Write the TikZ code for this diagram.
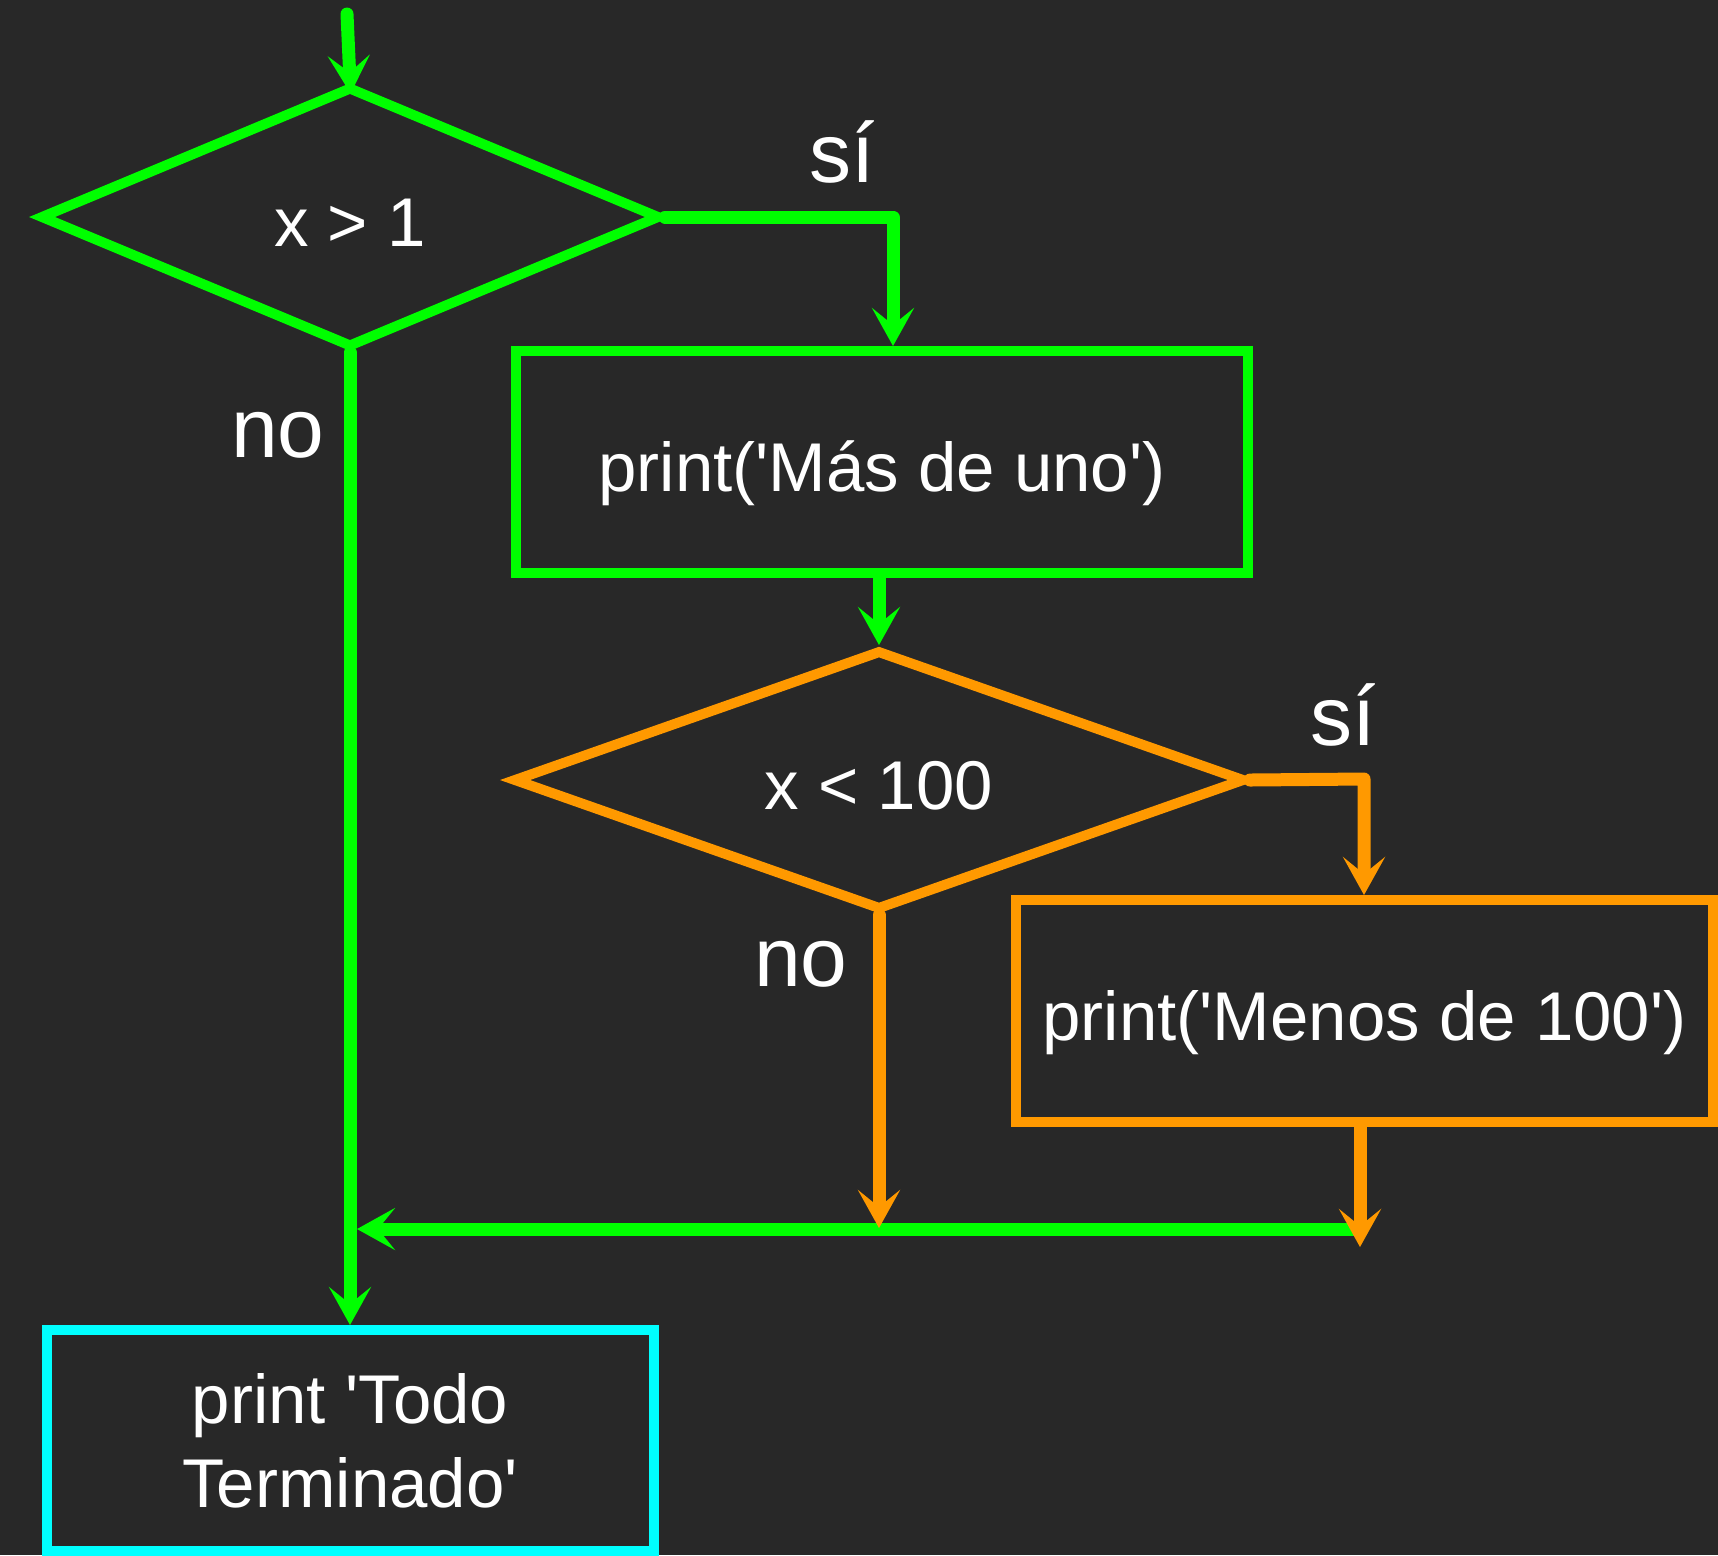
\documentclass[tikz,border=0pt]{standalone}
\usepackage{fontspec}
\setmainfont{Liberation Sans}
\usetikzlibrary{shapes.geometric, arrows.meta, positioning}

\definecolor{fondo}{HTML}{282828}
\definecolor{verde}{HTML}{00FF00}
\definecolor{naranja}{HTML}{FF9900}
\definecolor{cian}{HTML}{00FFFF}
\newcommand{\ap}{\textquotesingle}

\begin{document}
\begin{tikzpicture}[x=0.5pt, y=-0.5pt,
  oneline/.style = {text height=36pt, text depth=7pt},
  decision/.style = {draw, diamond, aspect=2.6, oneline, line width=5pt, inner sep=0pt, text=white, font=\fontsize{34.5}{41}\selectfont},
  process/.style = {draw, rectangle, line width=5pt, inner sep=0pt, text=white, align=center, font=\fontsize{34.5}{42}\selectfont},
  flow/.style = {line width=6.5pt, line cap=round, line join=round, -{Stealth[length=19pt, width=21pt, inset=8.5pt]}},
  answer/.style = {text=white, anchor=base, font=\fontsize{42}{50}\selectfont}]

\fill[fondo] (0,0) rectangle (1718,1555);
\useasboundingbox (0,0) rectangle (1718,1555);

% shapes
\node[decision, draw=verde, minimum width=310pt, minimum height=130.5pt] (d1) at (350,217) {x > 1};
\node[process, oneline, draw=verde, minimum width=366pt, minimum height=111pt] (p1) at (882,462) {print(\ap Más de uno\ap)};
\node[decision, draw=naranja, minimum width=366pt, minimum height=130pt] (d2) at (879,780) {x < 100};
\node[process, oneline, draw=naranja, minimum width=348.5pt, minimum height=111pt] (p2) at (1364.5,1011) {print(\ap Menos de 100\ap)};
\node[process, draw=cian, minimum width=303.5pt, minimum height=110.5pt] (fin) at (350,1440.5) {print \ap Todo\\Terminado\ap};

% labels
\node[answer] (si1) at (842,182) {sí};
\node[answer] (no1) at (278,457) {no};
\node[answer] (si2) at (1343,745) {sí};
\node[answer] (no2) at (801,986) {no};

% free ends and corners
\coordinate (start) at (347,14);
\coordinate (c1) at (893,217);
\coordinate (c2) at (1364,779);
\coordinate (m1) at (1356,1229);
\coordinate (m2) at (357,1229);
\coordinate (m3) at (879,1228);
\coordinate (c3) at (1360,1247);

% connectors
\draw[flow, verde, shorten >=-6pt] (start) -- (d1.north);
\draw[flow, verde] (d1.east) -- (c1) -- (c1 |- p1.north);
\draw[flow, verde] (d1.south) -- (d1.south |- fin.north);
\draw[flow, verde] (d2.north |- p1.south) -- (d2.north);
\draw[flow, verde] (m1) -- (m2);
\draw[flow, naranja] (d2.east) -- (c2) -- (c2 |- p2.north);
\draw[flow, naranja] (d2.south) -- (m3);
\draw[flow, naranja] (c3 |- p2.south) -- (c3);
\end{tikzpicture}
\end{document}
